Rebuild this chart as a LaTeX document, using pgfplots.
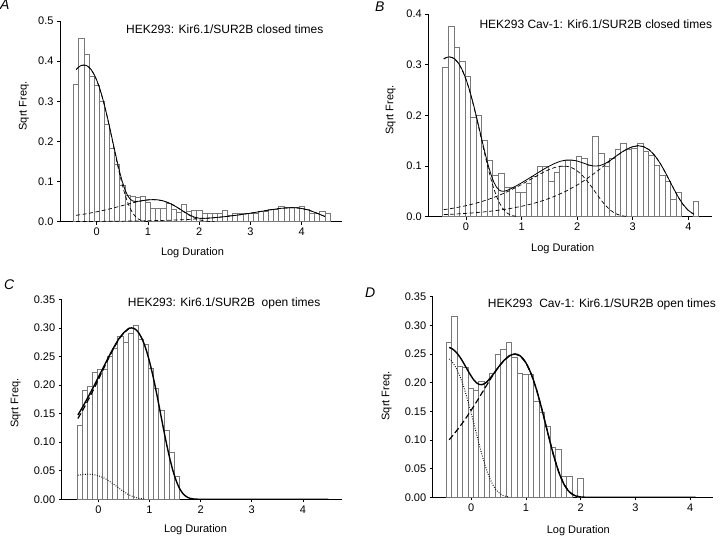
\documentclass[border=0pt]{standalone}
\usepackage{fontspec}
\setmainfont{Liberation Sans}
\usepackage{pgfplots}
\pgfplotsset{compat=1.18}
\definecolor{barc}{RGB}{120,120,120}

\pgfplotsset{
  panel/.style={
    scale only axis,
    axis x line=bottom, axis y line=left,
    axis line style={-, line width=0.7pt},
    tick align=outside,
    major tick length=3pt,
    tick style={line width=0.6pt, black},
    ymin=0,
    xtick={0,1,2,3,4},
    scaled y ticks=false,
    tick label style={font=\fontsize{11}{13}\selectfont},
    /pgf/number format/assume math mode=true,
    yticklabel style={/pgf/number format/fixed, /pgf/number format/zerofill},
  },
  hist/.style={ybar, bar width=0.1, draw=barc, fill=white, line width=0.5pt},
  fitthin/.style={black, line width=0.8pt},
  compthin/.style={black, line width=0.7pt, dash pattern=on 4pt off 2.5pt},
  fitthick/.style={black, line width=1.4pt},
  compthick/.style={black, line width=1.2pt, dash pattern=on 6pt off 3pt},
  compdot/.style={black, line width=1pt, dash pattern=on 0.8pt off 1.6pt},
}
\tikzset{
  ttl/.style={anchor=base west, inner sep=0pt, font=\fontsize{12}{14}\selectfont},
  lbl/.style={anchor=base, inner sep=0pt, font=\fontsize{11}{13}\selectfont},
  letter/.style={anchor=base west, inner sep=0pt, font=\fontsize{14}{16}\selectfont\itshape},
}

\begin{document}
\begin{tikzpicture}[x=1pt,y=1pt]
\useasboundingbox (0,0) rectangle (720,536);

% ---------------- A ----------------
\begin{axis}[panel, at={(60pt,314.3pt)}, anchor=south west,
  width=281.7pt, height=200.7pt,
  xmin=-0.715, xmax=4.78, ymax=0.5,
  ytick={0,0.1,0.2,0.3,0.4,0.5},
  yticklabel style={/pgf/number format/precision=1}]
\addplot[hist] coordinates {
(-0.4,0.343)(-0.3,0.457)(-0.2,0.416)(-0.1,0.363)(0,0.340)(0.1,0.300)(0.2,0.242)
(0.3,0.182)(0.4,0.142)(0.5,0.090)(0.6,0.065)(0.7,0.063)(0.8,0.060)(0.9,0.063)
(1.0,0.048)(1.1,0.033)(1.2,0.033)(1.3,0.033)(1.4,0.047)(1.5,0.030)(1.6,0.023)
(1.7,0.043)(1.8,0.026)(1.9,0.028)(2.0,0.028)(2.1,0.020)(2.2,0.020)(2.3,0.020)
(2.4,0.020)(2.5,0.028)(2.6,0.015)(2.7,0.020)(2.8,0.020)(2.9,0.020)(3.0,0.022)
(3.1,0.022)(3.2,0.026)(3.3,0.026)(3.4,0.032)(3.5,0.032)(3.6,0.038)(3.7,0.036)
(3.8,0.036)(3.9,0.036)(4.0,0.038)(4.1,0.030)(4.2,0.022)(4.3,0.022)(4.4,0.026)
(4.5,0.020)};
\addplot[compthin] coordinates {
(-0.4,0.379)(-0.35,0.385)(-0.3,0.389)(-0.25,0.39)(-0.2,0.3887)(-0.15,0.3845)
(-0.1,0.3771)(-0.05,0.3665)(0,0.3524)(0.05,0.3349)(0.1,0.3141)(0.15,0.2902)
(0.2,0.2638)(0.25,0.2352)(0.3,0.2055)(0.35,0.1753)(0.4,0.1456)(0.45,0.1175)
(0.5,0.0917)(0.55,0.0689)(0.6,0.0496)(0.65,0.0341)(0.7,0.0223)(0.75,0.0137)
(0.8,0.0079)(0.85,0.0042)(0.9,0.0021)(0.95,0.0009)(1.0,0.0004)};
\addplot[compthin] coordinates {
(-0.4,0.0159)(-0.3,0.0177)(-0.2,0.0198)(-0.1,0.0221)(0,0.0246)(0.1,0.0273)
(0.2,0.0302)(0.3,0.0334)(0.4,0.0367)(0.5,0.0401)(0.6,0.0435)(0.7,0.0469)
(0.8,0.05)(0.9,0.0525)(1.0,0.0543)(1.1,0.055)(1.2,0.0542)(1.3,0.0517)
(1.4,0.0472)(1.5,0.0409)(1.6,0.0332)(1.7,0.0247)(1.8,0.0166)(1.9,0.0097)
(2.0,0.0048)(2.1,0.0019)(2.2,0.0006)(2.3,0.0001)};
\addplot[compthin] coordinates {
(-0.4,0.0005)(0,0.0007)(0.4,0.0012)(0.8,0.0018)(1.0,0.0023)(1.2,0.0029)
(1.4,0.0036)(1.6,0.0046)(1.8,0.0057)(2.0,0.0072)(2.2,0.009)(2.4,0.0113)
(2.6,0.014)(2.8,0.0174)(3.0,0.0212)(3.2,0.0255)(3.4,0.0298)(3.6,0.0334)
(3.8,0.035)(3.9,0.0345)(4.0,0.0329)(4.1,0.0301)(4.2,0.026)(4.3,0.0211)
(4.4,0.0157)(4.45,0.0131)};
\addplot[fitthin] coordinates {
(-0.4,0.3793)(-0.35,0.3854)(-0.3,0.3894)(-0.25,0.3904)(-0.2,0.3892)(-0.15,0.3851)
(-0.1,0.3777)(-0.05,0.3672)(0,0.3533)(0.05,0.3359)(0.1,0.3153)(0.15,0.2916)
(0.2,0.2655)(0.25,0.2373)(0.3,0.2082)(0.35,0.1788)(0.4,0.1502)(0.45,0.1236)
(0.5,0.1001)(0.55,0.0806)(0.6,0.066)(0.65,0.0566)(0.7,0.0519)(0.75,0.0504)
(0.8,0.0506)(0.9,0.0526)(1.0,0.0543)(1.1,0.0551)(1.2,0.0543)(1.3,0.0518)
(1.4,0.0473)(1.5,0.0411)(1.6,0.0335)(1.7,0.0252)(1.8,0.0176)(1.9,0.0116)
(2.0,0.0087)(2.1,0.0083)(2.2,0.009)(2.4,0.0113)(2.6,0.014)(2.8,0.0174)
(3.0,0.0212)(3.2,0.0255)(3.4,0.0298)(3.6,0.0334)(3.8,0.035)(3.9,0.0345)
(4.0,0.0329)(4.1,0.0301)(4.2,0.026)(4.3,0.0211)(4.4,0.0157)(4.45,0.0131)};
\end{axis}

% ---------------- B ----------------
\begin{axis}[panel, at={(428.3pt,319.3pt)}, anchor=south west,
  width=283.4pt, height=202.7pt,
  xmin=-0.678, xmax=4.42, ymax=0.4,
  ytick={0,0.1,0.2,0.3,0.4},
  yticklabel style={/pgf/number format/precision=1}]
\addplot[hist] coordinates {
(-0.37,0.294)(-0.27,0.375)(-0.17,0.334)(-0.07,0.306)(0.03,0.277)(0.13,0.197)
(0.23,0.200)(0.33,0.150)(0.43,0.112)(0.53,0.082)(0.63,0.086)(0.73,0.059)
(0.83,0.058)(0.93,0.049)(1.03,0.049)(1.13,0.066)(1.23,0.080)(1.33,0.099)
(1.43,0.100)(1.53,0.070)(1.63,0.088)(1.73,0.100)(1.83,0.112)(1.93,0.112)
(2.03,0.120)(2.13,0.115)(2.23,0.102)(2.33,0.158)(2.43,0.125)(2.53,0.100)
(2.63,0.115)(2.73,0.133)(2.83,0.145)(2.93,0.133)(3.03,0.135)(3.13,0.145)
(3.23,0.130)(3.33,0.122)(3.43,0.102)(3.53,0.082)(3.63,0.069)(3.73,0.034)
(3.83,0.049)(4.13,0.030)};
\addplot[compthin] coordinates {
(-0.4,0.3112)(-0.35,0.3141)(-0.3,0.315)(-0.25,0.3139)(-0.2,0.3105)(-0.15,0.3046)
(-0.1,0.296)(-0.05,0.2846)(0,0.2705)(0.05,0.2537)(0.1,0.2344)(0.15,0.213)
(0.2,0.19)(0.25,0.1659)(0.3,0.1416)(0.35,0.1176)(0.4,0.0949)(0.45,0.074)
(0.5,0.0556)(0.55,0.0401)(0.6,0.0276)(0.65,0.018)(0.7,0.0111)(0.75,0.0064)
(0.8,0.0034)(0.85,0.0017)(0.9,0.0008)};
\addplot[compthin] coordinates {
(-0.4,0.0139)(-0.3,0.0155)(-0.2,0.0174)(-0.1,0.0195)(0,0.0218)(0.1,0.0244)
(0.2,0.0273)(0.3,0.0305)(0.4,0.0341)(0.5,0.038)(0.6,0.0424)(0.7,0.0471)
(0.8,0.0522)(0.9,0.0578)(1.0,0.0636)(1.1,0.0698)(1.2,0.076)(1.3,0.0822)
(1.4,0.0881)(1.5,0.0933)(1.6,0.0972)(1.7,0.0997)(1.75,0.1)(1.8,0.0997)
(1.85,0.0986)(1.9,0.0967)(1.95,0.094)(2.0,0.0904)(2.05,0.0859)(2.1,0.0805)
(2.15,0.0744)(2.2,0.0676)(2.25,0.0603)(2.3,0.0527)(2.35,0.0449)(2.4,0.0373)
(2.45,0.0301)(2.5,0.0235)(2.55,0.0177)(2.6,0.0127)(2.65,0.0088)(2.7,0.0057)
(2.75,0.0035)(2.8,0.002)(2.85,0.0011)(2.9,0.0005)};
\addplot[compthin] coordinates {
(-0.4,0.0041)(-0.2,0.0052)(0,0.0065)(0.2,0.0082)(0.4,0.0103)(0.6,0.013)
(0.8,0.0163)(1.0,0.0205)(1.2,0.0257)(1.4,0.0323)(1.6,0.0404)(1.8,0.0504)
(2.0,0.0625)(2.1,0.0694)(2.2,0.0769)(2.3,0.0849)(2.4,0.0933)(2.5,0.102)
(2.6,0.1108)(2.7,0.1194)(2.8,0.1272)(2.9,0.1337)(3.0,0.1383)(3.1,0.14)
(3.15,0.1395)(3.2,0.138)(3.25,0.1354)(3.3,0.1316)(3.35,0.1265)(3.4,0.1202)
(3.45,0.1128)(3.5,0.1042)(3.55,0.0947)(3.6,0.0844)(3.65,0.0738)(3.7,0.0629)
(3.75,0.0523)(3.8,0.0422)(3.85,0.0329)(3.9,0.0247)(3.95,0.0178)(4.0,0.0123)
(4.05,0.008)(4.1,0.0049)};
\addplot[fitthin] coordinates {
(-0.4,0.3115)(-0.35,0.3145)(-0.3,0.3154)(-0.25,0.3144)(-0.2,0.311)(-0.15,0.3052)
(-0.1,0.2967)(-0.05,0.2854)(0,0.2715)(0.05,0.2548)(0.1,0.2358)(0.15,0.2147)
(0.2,0.1921)(0.25,0.1686)(0.3,0.1452)(0.35,0.1224)(0.4,0.1014)(0.45,0.083)
(0.5,0.0683)(0.55,0.0581)(0.6,0.0522)(0.65,0.0501)(0.7,0.0506)(0.75,0.0523)
(0.8,0.0548)(0.9,0.0606)(1.0,0.0668)(1.1,0.0735)(1.2,0.0802)(1.3,0.0871)
(1.4,0.0938)(1.5,0.1)(1.6,0.1053)(1.7,0.1095)(1.8,0.1117)(1.9,0.1118)
(2.0,0.1099)(2.1,0.1063)(2.2,0.1024)(2.3,0.0999)(2.4,0.1005)(2.5,0.1047)
(2.6,0.1115)(2.7,0.1195)(2.8,0.1272)(2.9,0.1337)(3.0,0.1383)(3.1,0.14)
(3.2,0.138)(3.3,0.1316)(3.4,0.1202)(3.5,0.1042)(3.6,0.0844)(3.7,0.0629)
(3.8,0.0422)(3.9,0.0247)(4.0,0.0123)(4.1,0.0049)};
\end{axis}

% ---------------- C ----------------
\begin{axis}[panel, at={(61.7pt,36.7pt)}, anchor=south west,
  width=280pt, height=200pt,
  xmin=-0.716, xmax=4.76, ymax=0.35,
  ytick={0,0.05,0.10,0.15,0.20,0.25,0.30,0.35},
  yticklabel style={/pgf/number format/precision=2}]
\addplot[hist] coordinates {
(-0.37,0.130)(-0.27,0.190)(-0.17,0.197)(-0.07,0.222)(0.03,0.228)(0.13,0.228)
(0.23,0.250)(0.33,0.265)(0.43,0.285)(0.53,0.275)(0.63,0.290)(0.73,0.305)
(0.83,0.280)(0.93,0.272)(1.03,0.230)(1.13,0.195)(1.23,0.155)(1.33,0.120)
(1.43,0.082)(1.53,0.040)};
\addplot[compdot] coordinates {
(-0.4,0.042)(-0.3,0.0435)(-0.2,0.044)(-0.1,0.0434)(0,0.0413)(0.1,0.0378)
(0.2,0.0327)(0.3,0.0265)(0.4,0.0198)(0.5,0.0133)(0.6,0.0078)(0.7,0.0039)
(0.8,0.0015)(0.9,0.0005)};
\addplot[compthick] coordinates {
(-0.4,0.1413)(-0.3,0.1566)(-0.2,0.1734)(-0.1,0.1908)(0,0.2093)(0.1,0.228)
(0.2,0.2466)(0.3,0.2642)(0.4,0.28)(0.5,0.2915)(0.6,0.2991)(0.65,0.3)};
\addplot[fitthick] coordinates {
(-0.4,0.1474)(-0.3,0.1625)(-0.2,0.1789)(-0.1,0.1957)(0,0.2133)(0.1,0.2311)
(0.2,0.2488)(0.3,0.2655)(0.4,0.2807)(0.5,0.2918)(0.6,0.2992)(0.65,0.3)
(0.7,0.299)(0.75,0.2957)(0.8,0.2901)(0.85,0.2819)(0.9,0.2711)(0.95,0.2576)
(1.0,0.2416)(1.05,0.2233)(1.1,0.2029)(1.15,0.181)(1.2,0.158)(1.25,0.1348)
(1.3,0.112)(1.35,0.0904)(1.4,0.0705)(1.45,0.053)(1.5,0.0382)(1.55,0.0263)
(1.6,0.0171)(1.65,0.0105)(1.7,0.0061)(1.75,0.0032)(1.8,0.0016)(1.85,0.0007)
(1.95,0.0001)(2.1,0)(4.5,0)};
\end{axis}

% ---------------- D ----------------
\begin{axis}[panel, at={(432.7pt,38.7pt)}, anchor=south west,
  width=280pt, height=200.6pt,
  xmin=-0.70, xmax=4.41, ymax=0.35,
  ytick={0,0.05,0.10,0.15,0.20,0.25,0.30,0.35},
  yticklabel style={/pgf/number format/precision=2}]
\addplot[hist] coordinates {
(-0.41,0.271)(-0.31,0.316)(-0.21,0.229)(-0.11,0.227)(-0.01,0.190)(0.09,0.186)
(0.19,0.203)(0.29,0.200)(0.39,0.216)(0.49,0.249)(0.59,0.258)(0.69,0.270)
(0.79,0.244)(0.89,0.216)(0.99,0.214)(1.09,0.215)(1.19,0.168)(1.29,0.148)
(1.39,0.124)(1.49,0.088)(1.59,0.084)(1.69,0.036)(1.79,0.036)(1.99,0.034)};
\addplot[compdot] coordinates {
(-0.4,0.2415)(-0.35,0.2369)(-0.3,0.2302)(-0.25,0.2214)(-0.2,0.2104)(-0.15,0.1973)
(-0.1,0.1823)(-0.05,0.1657)(0,0.1478)(0.05,0.1291)(0.1,0.1101)(0.15,0.0915)
(0.2,0.0738)(0.25,0.0576)(0.3,0.0433)(0.35,0.0312)(0.4,0.0214)(0.45,0.014)
(0.5,0.0086)(0.55,0.0049)(0.6,0.0026)(0.65,0.0013)(0.7,0.0006)};
\addplot[compthick] coordinates {
(-0.4,0.1003)(-0.3,0.1117)(-0.2,0.124)(-0.1,0.1373)(0,0.1516)(0.1,0.1666)
(0.2,0.1822)(0.3,0.1979)(0.4,0.2131)(0.5,0.2271)(0.6,0.2388)(0.7,0.247)
(0.8,0.25)(0.9,0.2465)(1.0,0.2349)(1.1,0.2147)(1.2,0.1861)(1.3,0.1508)
(1.4,0.1124)(1.5,0.0753)(1.6,0.0442)(1.7,0.0219)(1.8,0.0088)(1.9,0.0027)
(2.0,0.0006)};
\addplot[fitthick] coordinates {
(-0.4,0.2615)(-0.35,0.2595)(-0.3,0.2559)(-0.25,0.2507)(-0.2,0.2442)(-0.15,0.2366)
(-0.1,0.2282)(-0.05,0.2197)(0,0.2117)(0.05,0.2048)(0.1,0.1997)(0.15,0.1969)
(0.2,0.1966)(0.25,0.1985)(0.3,0.2026)(0.35,0.208)(0.4,0.2142)(0.45,0.2206)
(0.5,0.2273)(0.6,0.2388)(0.7,0.247)(0.75,0.249)(0.8,0.25)(0.85,0.2492)
(0.9,0.2465)(0.95,0.2418)(1.0,0.2349)(1.05,0.2259)(1.1,0.2147)(1.15,0.2014)
(1.2,0.1861)(1.25,0.1691)(1.3,0.1508)(1.35,0.1317)(1.4,0.1124)(1.45,0.0934)
(1.5,0.0753)(1.55,0.0588)(1.6,0.0442)(1.65,0.0318)(1.7,0.0219)(1.75,0.0143)
(1.8,0.0088)(1.85,0.0051)(1.9,0.0027)(1.95,0.0013)(2.0,0.0006)(2.1,0)(4.1,0)};
\end{axis}

% titles, labels, panel letters
\node[ttl] at (126,502.7) {HEK293: Kir6.1/SUR2B closed times};
\node[ttl] at (479.3,507.7) {HEK293 Cav-1: Kir6.1/SUR2B closed times};
\node[ttl] at (127.7,229.3) {HEK293: Kir6.1/SUR2B\ \ open times};
\node[ttl] at (487.7,228.7) {HEK293\ \ Cav-1: Kir6.1/SUR2B open times};

\node[lbl] at (192.5,280) {Log Duration};
\node[lbl] at (562.7,284) {Log Duration};
\node[lbl] at (195.5,3.5) {Log Duration};
\node[lbl] at (578.3,2.5) {Log Duration};

\node[lbl, rotate=90] at (26.7,430) {Sqrt Freq.};
\node[lbl, rotate=90] at (393.3,426) {Sqrt Freq.};
\node[lbl, rotate=90] at (18.3,133) {Sqrt Freq.};
\node[lbl, rotate=90] at (389.3,140) {Sqrt Freq.};

\node[letter] at (0,526) {A};
\node[letter] at (375,524.3) {B};
\node[letter] at (4,246) {C};
\node[letter] at (365,238.7) {D};
\end{tikzpicture}
\end{document}
